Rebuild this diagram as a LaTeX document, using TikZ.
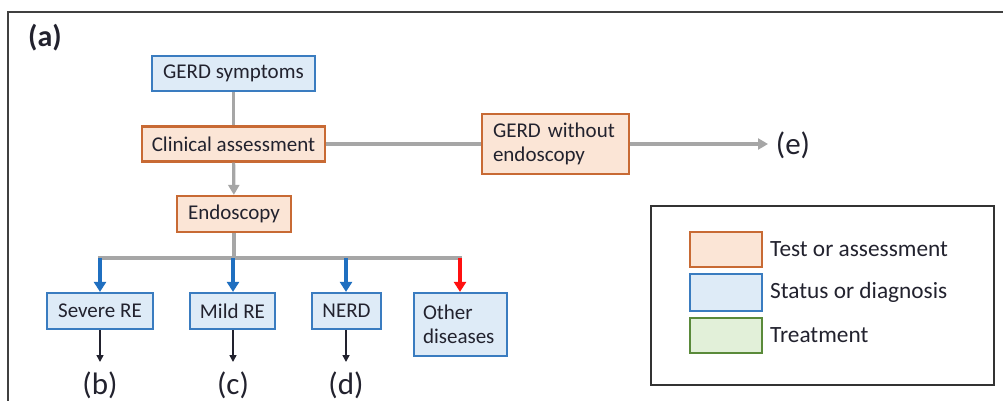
\documentclass[tikz,border=0pt]{standalone}
\usepackage{fontspec}
\setmainfont{Carlito}
\usetikzlibrary{arrows.meta}
\definecolor{obord}{HTML}{C86A34}
\definecolor{ofill}{HTML}{FBE5D6}
\definecolor{bbord}{HTML}{3A7CC0}
\definecolor{bfill}{HTML}{DEEBF7}
\definecolor{gbord}{HTML}{5A8A3A}
\definecolor{gfill}{HTML}{E2F0D9}
\definecolor{glink}{HTML}{A6A6A6}
\definecolor{blink}{HTML}{1F6FC0}
\definecolor{rlink}{HTML}{FF1010}
\definecolor{frame}{HTML}{404040}
\definecolor{txt}{HTML}{22222E}
\tikzset{
  base/.style={draw, line width=2.2pt, inner sep=0pt, font=\fontsize{21}{24}\selectfont, text=txt},
  test/.style={base, draw=obord, fill=ofill},
  stat/.style={base, draw=bbord, fill=bfill},
  treat/.style={base, draw=gbord, fill=gfill},
  glin/.style={draw=glink, line width=3.2pt},
  garr/.style={glin, -{Triangle[length=10pt,width=11pt]}},
  barr/.style={draw=blink, line width=3.4pt, -{Triangle[length=10pt,width=12pt]}},
  rarr/.style={draw=rlink, line width=3.4pt, -{Triangle[length=10pt,width=12pt]}},
  karr/.style={draw=txt, line width=1.6pt, -{Triangle[length=7pt,width=7pt]}},
  lab/.style={font=\fontsize{31}{34}\selectfont, text=txt, inner sep=0pt},
  legtxt/.style={font=\fontsize{23.3}{27}\selectfont, text=txt, inner sep=0pt, anchor=west}
}
\begin{document}
\begin{tikzpicture}[x=1pt,y=-1pt]
\useasboundingbox (0,0) rectangle (1003,401);
% outer frame (cropped)
\draw[frame, line width=2.2pt] (1003,12) -- (8,12) -- (8,401);
\node[lab, font=\bfseries\fontsize{30}{33}\selectfont] (a) at (45,38) {(a)};

\node[stat, minimum width=163pt, minimum height=35pt] (sym) at (233.5,73.5) {GERD symptoms};
\node[test, minimum width=183pt, minimum height=35pt] (clin) at (233.5,144) {Clinical assessment};
\node[test, minimum width=114pt, minimum height=36pt] (endo) at (234,214) {Endoscopy};
\node[test, minimum height=60pt, text width=125pt, inner xsep=11pt, align=left] (gwo) at (555.5,144) {GERD without\\endoscopy};
\node[lab] (e) at (793,145) {(e)};

\node[stat, minimum width=106pt, minimum height=36pt] (sev) at (100,311) {Severe RE};
\node[stat, minimum width=85pt, minimum height=36pt] (mild) at (232.5,311) {Mild RE};
\node[stat, minimum width=69pt, minimum height=36pt] (nerd) at (346.5,311) {NERD};
\node[stat, minimum height=63pt, text width=75pt, inner xsep=9pt, align=left] (oth) at (460.5,324.5) {Other\\diseases};

\node[lab] (b) at (100,385) {(b)};
\node[lab] (c) at (233,385) {(c)};
\node[lab] (d) at (346,385) {(d)};

\coordinate (barm) at (234,258);
\coordinate (barl) at (98,258);
\coordinate (barr) at (462,258);
\coordinate (bsev) at (100,258);
\coordinate (bmild) at (233,258);
\coordinate (bnerd) at (346,258);
\coordinate (both) at (460,258);
\coordinate (esev) at (100,362);
\coordinate (emild) at (233,362);
\coordinate (enerd) at (346,362);
\coordinate (ee) at (768,144);

\draw[glin] (sym) -- (clin);
\draw[garr] (clin) -- (endo);
\draw[glin] (endo) -- (barm);
\draw[glin] (barl) -- (barr);
\draw[glin] (clin.east) -- (gwo.west);
\draw[garr] (gwo.east) -- (ee);

\draw[barr] (bsev) -- (sev.north);
\draw[barr] (bmild) -- (bmild |- mild.north);
\draw[barr] (bnerd) -- (bnerd |- nerd.north);
\draw[rarr] (both) -- (both |- oth.north);

\draw[karr] (sev.south) -- (esev);
\draw[karr] (emild |- mild.south) -- (emild);
\draw[karr] (enerd |- nerd.south) -- (enerd);

% legend
\node[draw=black!80, line width=2pt, minimum width=343pt, minimum height=179pt, inner sep=0pt] (leg) at (822.5,295.5) {};
\node[test, minimum width=72pt, minimum height=35pt] (lt) at (726,249.5) {};
\node[stat, minimum width=72pt, minimum height=37pt] (ls) at (726,292.5) {};
\node[treat, minimum width=72pt, minimum height=35pt] (lg) at (726,335.5) {};
\node[legtxt] (ltt) at (770,249.5) {Test or assessment};
\node[legtxt] (lst) at (770,292.5) {Status or diagnosis};
\node[legtxt] (lgt) at (770,335.5) {Treatment};
\end{tikzpicture}
\end{document}
